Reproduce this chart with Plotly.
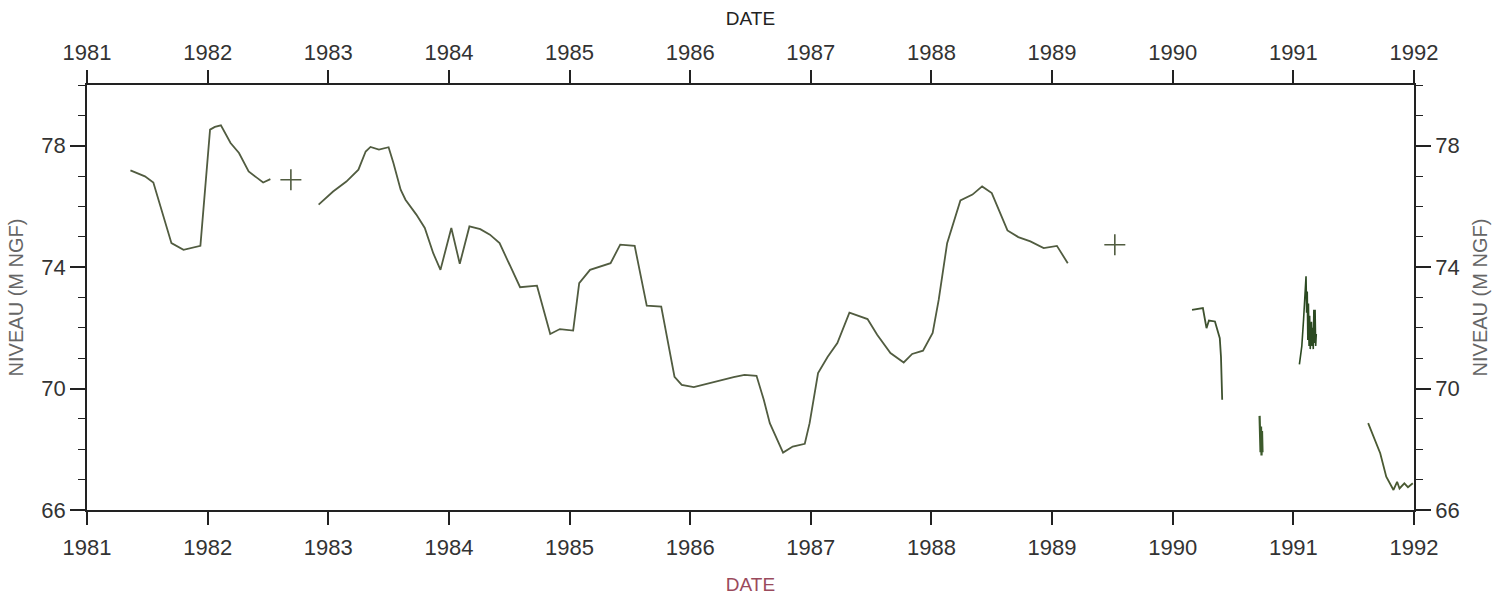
import plotly.graph_objects as go

# Water level record (decimal year, level in m NGF), one list per continuous run
seg1_year = [1981.36, 1981.48, 1981.55, 1981.70, 1981.80, 1981.94, 1982.02, 1982.06,
             1982.11, 1982.19, 1982.26, 1982.34, 1982.41, 1982.46, 1982.52]
seg1_level = [77.19, 76.99, 76.79, 74.79, 74.57, 74.70, 78.53, 78.62,
              78.67, 78.09, 77.76, 77.15, 76.94, 76.79, 76.90]

seg2_year = [1982.92, 1983.04, 1983.15, 1983.25, 1983.31, 1983.35, 1983.42, 1983.50,
             1983.54, 1983.60, 1983.64, 1983.73, 1983.80, 1983.87, 1983.93, 1984.02,
             1984.09, 1984.17, 1984.26, 1984.34, 1984.42, 1984.59, 1984.73, 1984.84,
             1984.92, 1985.03, 1985.08, 1985.17, 1985.34, 1985.42, 1985.54, 1985.64,
             1985.76, 1985.87, 1985.93, 1986.03, 1986.36, 1986.45, 1986.55, 1986.61,
             1986.66, 1986.77, 1986.85, 1986.95, 1986.99, 1987.06, 1987.14, 1987.22,
             1987.32, 1987.47, 1987.55, 1987.66, 1987.77, 1987.84, 1987.93, 1988.01,
             1988.06, 1988.13, 1988.24, 1988.34, 1988.42, 1988.50, 1988.63, 1988.72,
             1988.82, 1988.93, 1989.04, 1989.13]
seg2_level = [76.06, 76.49, 76.82, 77.21, 77.81, 77.96, 77.87, 77.95,
              77.43, 76.55, 76.22, 75.73, 75.29, 74.46, 73.91, 75.29,
              74.11, 75.34, 75.25, 75.07, 74.79, 73.34, 73.39, 71.80,
              71.96, 71.91, 73.47, 73.91, 74.13, 74.74, 74.70, 72.73,
              72.70, 70.39, 70.12, 70.05, 70.38, 70.45, 70.42, 69.63,
              68.86, 67.89, 68.09, 68.18, 68.86, 70.51, 71.05, 71.50,
              72.50, 72.29, 71.77, 71.17, 70.86, 71.14, 71.25, 71.83,
              72.92, 74.79, 76.20, 76.39, 76.66, 76.44, 75.21, 74.99,
              74.85, 74.63, 74.70, 74.13]

seg3_year = [1990.16, 1990.25, 1990.27, 1990.28, 1990.30, 1990.35, 1990.39, 1990.40, 1990.41]
seg3_level = [72.59, 72.65, 72.21, 71.99, 72.24, 72.21, 71.66, 71.05, 69.63]

seg4_year = [1990.720, 1990.724, 1990.728, 1990.732, 1990.736, 1990.740, 1990.744]
seg4_level = [69.10, 68.70, 67.90, 68.75, 67.80, 68.60, 67.90]

seg5_year = [1991.050, 1991.070, 1991.085, 1991.095, 1991.105, 1991.110, 1991.115,
             1991.120, 1991.125, 1991.130, 1991.135, 1991.140, 1991.150, 1991.155,
             1991.160, 1991.165, 1991.170, 1991.175, 1991.180, 1991.185, 1991.190]
seg5_level = [70.80, 71.40, 72.30, 72.90, 73.70, 72.50, 73.20,
              71.60, 72.80, 71.40, 72.40, 71.30, 72.20, 71.40,
              72.00, 71.30, 72.60, 71.50, 72.60, 71.40, 71.80]

seg6_year = [1991.62, 1991.72, 1991.77, 1991.83, 1991.86, 1991.88, 1991.92, 1991.95, 1991.99]
seg6_level = [68.86, 67.87, 67.10, 66.66, 66.93, 66.71, 66.88, 66.75, 66.88]

# Isolated single readings
single_year = [1982.69, 1989.52]
single_level = [76.88, 74.74]

year_ticks = list(range(1981, 1993))
level_ticks = [66, 70, 74, 78]
level_minor = list(range(66, 81))

OLIVE = "#515c40"
DARK_GREEN = "#2c4a22"
AXIS = "#222222"
FONT = "Liberation Sans"

fig = go.Figure()


def add_run(xs, ys, color, width=1.8):
    fig.add_trace(go.Scatter(x=xs, y=ys, mode="lines",
                             line=dict(color=color, width=width),
                             showlegend=False, hoverinfo="skip"))


add_run(seg1_year, seg1_level, OLIVE)
add_run(seg2_year, seg2_level, OLIVE)
add_run(seg3_year, seg3_level, "#3f5230")
add_run(seg4_year, seg4_level, "#3d5a2c", 2.2)
add_run(seg5_year, seg5_level, DARK_GREEN, 1.6)
add_run(seg6_year, seg6_level, "#4a5a32")

fig.add_trace(go.Scatter(x=single_year, y=single_level, mode="markers",
                         marker=dict(symbol="cross-thin", size=15,
                                     line=dict(color=OLIVE, width=1.6)),
                         showlegend=False, hoverinfo="skip"))

# Empty trace so the mirrored top/right axes are drawn
fig.add_trace(go.Scatter(x=[None], y=[None], xaxis="x2", yaxis="y2",
                         showlegend=False, hoverinfo="skip"))

x_common = dict(range=[1981, 1992], tickvals=year_ticks, ticktext=[str(v) for v in year_ticks],
                ticks="outside", ticklen=13, tickwidth=1.5, tickcolor=AXIS,
                showline=True, linecolor=AXIS, linewidth=1.6,
                showgrid=False, zeroline=False, automargin=False,
                tickfont=dict(family=FONT, size=22, color="#333333"))
y_common = dict(range=[66, 80], tickvals=level_ticks,
                ticks="outside", ticklen=15, tickwidth=1.5, tickcolor=AXIS,
                minor=dict(tickvals=level_minor, ticks="outside", ticklen=7,
                           tickwidth=1.3, tickcolor=AXIS),
                showline=True, linecolor=AXIS, linewidth=1.6,
                showgrid=False, zeroline=False, automargin=False,
                tickfont=dict(family=FONT, size=22, color="#333333"))

fig.update_layout(
    width=1503, height=596,
    margin=dict(l=87, r=89, t=85, b=86),
    paper_bgcolor="white", plot_bgcolor="white",
    xaxis=dict(**x_common, ticklabelstandoff=4,
               title=dict(text="DATE", standoff=18,
                          font=dict(family=FONT, size=19, color="#9a4a5c"))),
    xaxis2=dict(**x_common, overlaying="x", side="top", anchor="y",
                ticklabelstandoff=1,
                title=dict(text="DATE", standoff=10,
                           font=dict(family=FONT, size=19, color="#222222"))),
    yaxis=dict(**y_common,
               title=dict(text="NIVEAU (M NGF)", standoff=12,
                          font=dict(family=FONT, size=20, color="#666666"))),
    yaxis2=dict(**y_common, overlaying="y", side="right", anchor="x",
                title=dict(text="NIVEAU (M NGF)", standoff=14,
                           font=dict(family=FONT, size=20, color="#666666"))),
)

fig.write_html("out.html")
